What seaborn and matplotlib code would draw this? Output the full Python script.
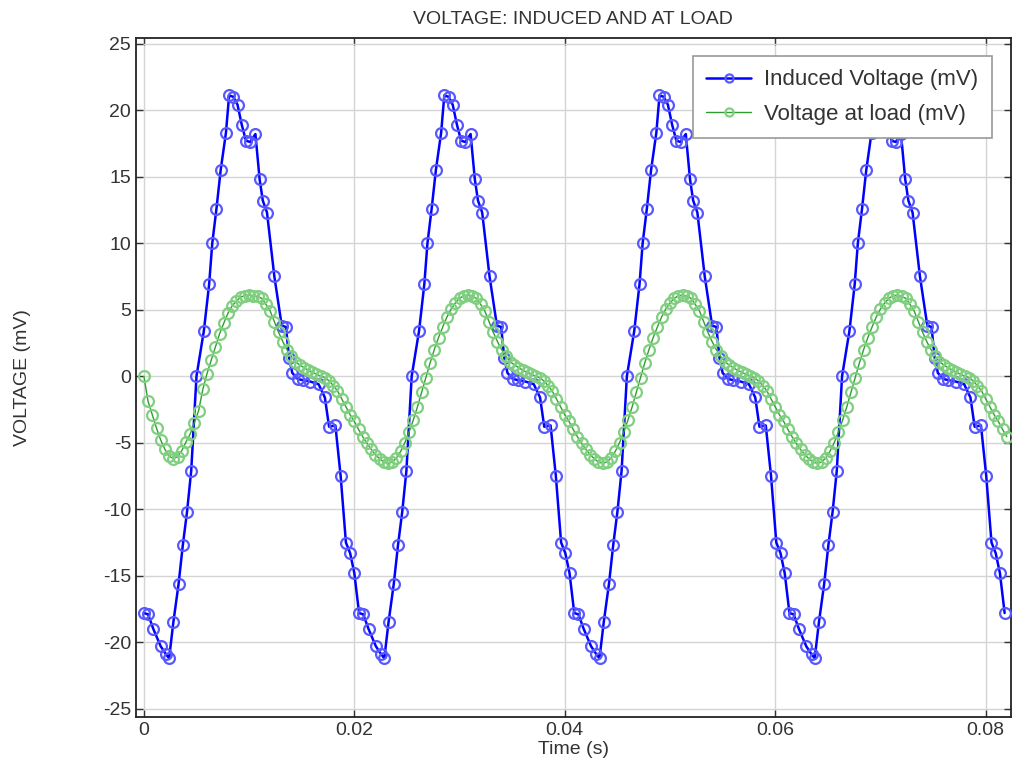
import matplotlib
matplotlib.use("Agg")
import matplotlib.pyplot as plt
import seaborn as sns
import pandas as pd

# ---- Induced voltage (mV) ----
induced_t = [
    0.0000, 0.0004, 0.0009, 0.0016, 0.0021, 0.0024, 0.0028, 0.0033, 0.0037, 0.0041,
    0.0045, 0.0050, 0.0057, 0.0062, 0.0065, 0.0069, 0.0073, 0.0078, 0.0081, 0.0085,
    0.0089, 0.0093, 0.0097, 0.0101, 0.0106, 0.0110, 0.0113, 0.0117, 0.0124, 0.0131,
    0.0135, 0.0138, 0.0141, 0.0146, 0.0151, 0.0158, 0.0166, 0.0172, 0.0176, 0.0182,
    0.0187, 0.0192, 0.0196, 0.0200,
    0.02045, 0.02085, 0.02135, 0.02205, 0.02255, 0.02285, 0.02325, 0.02375, 0.02415, 0.02455,
    0.02495, 0.02545, 0.02615, 0.02665, 0.02695, 0.02735, 0.02775, 0.02825, 0.02855, 0.02895,
    0.02935, 0.02975, 0.03015, 0.03055, 0.03105, 0.03145, 0.03175, 0.03215, 0.03285, 0.03355,
    0.03395, 0.03425, 0.03455, 0.03505, 0.03555, 0.03625, 0.03705, 0.03765, 0.03805, 0.03865,
    0.03915, 0.03965, 0.04005, 0.04045,
    0.0409, 0.0413, 0.0418, 0.0425, 0.0430, 0.0433, 0.0437, 0.0442, 0.0446, 0.0450,
    0.0454, 0.0459, 0.0466, 0.0471, 0.0474, 0.0478, 0.0482, 0.0487, 0.0490, 0.0494,
    0.0498, 0.0502, 0.0506, 0.0510, 0.0515, 0.0519, 0.0522, 0.0526, 0.0533, 0.0540,
    0.0544, 0.0547, 0.0550, 0.0555, 0.0560, 0.0567, 0.0575, 0.0581, 0.0585, 0.0591,
    0.0596, 0.0601, 0.0605, 0.0609,
    0.06135, 0.06175, 0.06225, 0.06295, 0.06345, 0.06375, 0.06415, 0.06465, 0.06505, 0.06545,
    0.06585, 0.06635, 0.06705, 0.06755, 0.06785, 0.06825, 0.06865, 0.06915, 0.06945, 0.06985,
    0.07025, 0.07065, 0.07105, 0.07145, 0.07195, 0.07235, 0.07265, 0.07305, 0.07375, 0.07445,
    0.07485, 0.07515, 0.07545, 0.07595, 0.07645, 0.07715, 0.07795, 0.07855, 0.07895, 0.07955,
    0.08005, 0.08055, 0.08095, 0.08135,
    0.0818,
]
induced_v = [
    -17.8, -17.9, -19.0, -20.3, -20.9, -21.2, -18.5, -15.6, -12.7, -10.2,
    -7.1, 0.0, 3.4, 6.9, 10.0, 12.6, 15.5, 18.3, 21.1, 21.0,
    20.4, 18.9, 17.7, 17.6, 18.2, 14.8, 13.2, 12.3, 7.5, 3.8,
    3.7, 1.4, 0.25, -0.2, -0.3, -0.4, -0.6, -1.6, -3.8, -3.7,
    -7.5, -12.5, -13.3, -14.8,
    -17.8, -17.9, -19.0, -20.3, -20.9, -21.2, -18.5, -15.6, -12.7, -10.2,
    -7.1, 0.0, 3.4, 6.9, 10.0, 12.6, 15.5, 18.3, 21.1, 21.0,
    20.4, 18.9, 17.7, 17.6, 18.2, 14.8, 13.2, 12.3, 7.5, 3.8,
    3.7, 1.4, 0.25, -0.2, -0.3, -0.4, -0.6, -1.6, -3.8, -3.7,
    -7.5, -12.5, -13.3, -14.8,
    -17.8, -17.9, -19.0, -20.3, -20.9, -21.2, -18.5, -15.6, -12.7, -10.2,
    -7.1, 0.0, 3.4, 6.9, 10.0, 12.6, 15.5, 18.3, 21.1, 21.0,
    20.4, 18.9, 17.7, 17.6, 18.2, 14.8, 13.2, 12.3, 7.5, 3.8,
    3.7, 1.4, 0.25, -0.2, -0.3, -0.4, -0.6, -1.6, -3.8, -3.7,
    -7.5, -12.5, -13.3, -14.8,
    -17.8, -17.9, -19.0, -20.3, -20.9, -21.2, -18.5, -15.6, -12.7, -10.2,
    -7.1, 0.0, 3.4, 6.9, 10.0, 12.6, 15.5, 18.3, 21.1, 21.0,
    20.4, 18.9, 17.7, 17.6, 18.2, 14.8, 13.2, 12.3, 7.5, 3.8,
    3.7, 1.4, 0.25, -0.2, -0.3, -0.4, -0.6, -1.6, -3.8, -3.7,
    -7.5, -12.5, -13.3, -14.8,
    -17.8,
]

load_dt = 0.0004
load_v = [
    0.0, -1.9, -2.9, -3.9, -4.8, -5.5, -6.0, -6.2, -6.05, -5.6,
    -4.95, -4.35, -3.5, -2.6, -1.0, 0.2, 1.2, 2.2, 3.2, 4.0,
    4.75, 5.3, 5.65, 5.95, 6.05, 6.1, 6.05,
    6.0, 5.85, 5.4, 4.9, 4.1, 3.3, 2.6, 2.0, 1.5, 1.1,
    0.85, 0.65, 0.45, 0.3, 0.15, 0.0, -0.1, -0.35, -0.7, -1.1,
    -1.7, -2.3, -2.9, -3.4, -4.0, -4.55, -5.05, -5.5, -5.9, -6.2, -6.45,
    -6.55, -6.45, -6.15, -5.65, -5.0, -4.2, -3.3, -2.3, -1.2, -0.1,
    1.0, 2.0, 2.9, 3.7, 4.45, 5.05, 5.5, 5.85, 6.05, 6.1,
    6.0, 5.85, 5.4, 4.9, 4.1, 3.3, 2.6, 2.0, 1.5, 1.1,
    0.85, 0.65, 0.45, 0.3, 0.15, 0.0, -0.1, -0.35, -0.7, -1.1,
    -1.7, -2.3, -2.9, -3.4, -4.0, -4.55, -5.05, -5.5, -5.9, -6.2, -6.45,
    -6.55, -6.45, -6.15, -5.65, -5.0, -4.2, -3.3, -2.3, -1.2, -0.1,
    1.0, 2.0, 2.9, 3.7, 4.45, 5.05, 5.5, 5.85, 6.05, 6.1,
    6.0, 5.85, 5.4, 4.9, 4.1, 3.3, 2.6, 2.0, 1.5, 1.1,
    0.85, 0.65, 0.45, 0.3, 0.15, 0.0, -0.1, -0.35, -0.7, -1.1,
    -1.7, -2.3, -2.9, -3.4, -4.0, -4.55, -5.05, -5.5, -5.9, -6.2, -6.45,
    -6.55, -6.45, -6.15, -5.65, -5.0, -4.2, -3.3, -2.3, -1.2, -0.1,
    1.0, 2.0, 2.9, 3.7, 4.45, 5.05, 5.5, 5.85, 6.05, 6.1,
    6.0, 5.85, 5.4, 4.9, 4.1, 3.3, 2.6, 2.0, 1.5, 1.1,
    0.85, 0.65, 0.45, 0.3, 0.15, 0.0, -0.1, -0.35, -0.7, -1.1,
    -1.7, -2.3, -2.9, -3.4, -4.0, -4.55,
]
load_t = [round(i * load_dt, 5) for i in range(len(load_v))]

series_labels = ["Induced Voltage (mV)", "Voltage at load (mV)"]
x_ticks = [0, 0.02, 0.04, 0.06, 0.08]
x_tick_labels = ["0", "0.02", "0.04", "0.06", "0.08"]
y_ticks = [-25, -20, -15, -10, -5, 0, 5, 10, 15, 20, 25]

df_ind = pd.DataFrame({"t": induced_t, "v": induced_v})
df_load = pd.DataFrame({"t": load_t, "v": load_v})

sns.set_theme(style="white")
plt.rcParams["font.family"] = ["Liberation Sans", "DejaVu Sans"]
plt.rcParams["axes.unicode_minus"] = False

fig = plt.figure(figsize=(10.14, 7.8), dpi=100)
ax = fig.add_axes([0.134, 0.081, 0.863, 0.870])

sns.lineplot(data=df_ind, x="t", y="v", ax=ax, sort=False, estimator=None,
             color="#0000ff", linewidth=1.8, marker="o", markersize=7.8,
             markerfacecolor="none", markeredgecolor="#5858ff", markeredgewidth=1.6,
             label=series_labels[0], zorder=3)
sns.lineplot(data=df_load, x="t", y="v", ax=ax, sort=False, estimator=None,
             color="#2e9e2e", linewidth=1.0, marker="o", markersize=7.8,
             markerfacecolor="none", markeredgecolor="#80cf80", markeredgewidth=1.6,
             label=series_labels[1], zorder=4)

ax.set_xlim(-0.00076, 0.0824)
ax.set_ylim(-25.6, 25.4)
ax.set_xticks(x_ticks)
ax.set_xticklabels(x_tick_labels)
ax.set_yticks(y_ticks)
ax.grid(True, color="#d4d4d4", linewidth=1.0)
ax.set_axisbelow(True)
ax.tick_params(direction="in", length=5, width=1, top=True, right=True,
               bottom=True, left=True, labelsize=14, colors="#333333")
for s in ax.spines.values():
    s.set_color("#222222")
    s.set_linewidth(1.3)

ax.set_title("VOLTAGE: INDUCED AND AT LOAD", fontsize=14, color="#333333", pad=10)
ax.set_xlabel("Time (s)", fontsize=14, color="#333333", labelpad=2)
ax.set_ylabel("VOLTAGE (mV)", fontsize=14, color="#333333", labelpad=52)

leg = ax.legend(loc="upper right", bbox_to_anchor=(0.9905, 0.99), fontsize=16,
                frameon=True, fancybox=False, framealpha=1.0, edgecolor="#999999",
                handlelength=2.0, borderpad=0.6, labelspacing=0.6, markerscale=0.75,
                handletextpad=0.6)
leg.get_frame().set_linewidth(1.2)
for txt in leg.get_texts():
    txt.set_color("#333333")

fig.savefig("out.png", dpi=100)
